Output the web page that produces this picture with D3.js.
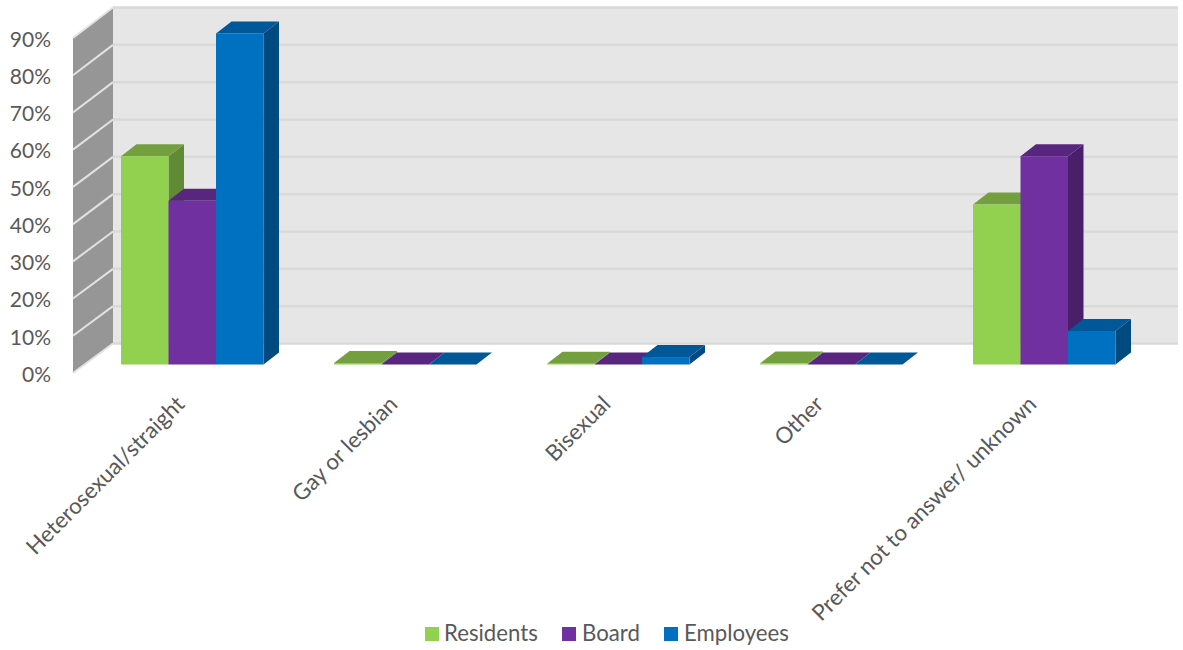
<!DOCTYPE html>
<html><head><meta charset="utf-8">
<script src="https://d3js.org/d3.v7.min.js"></script>
<style>html,body{margin:0;background:#fff}svg{display:block}text{font-family:Lato,"Open Sans",sans-serif;fill:#595959}</style>
</head><body><svg id="c" width="1183" height="650"></svg>
<script>
const categories=["Heterosexual/straight","Gay or lesbian","Bisexual","Other","Prefer not to answer/ unknown"];
const seriesNames=["Residents","Board","Employees"];
const residents=[56,0.4,0.2,0.3,43];
const board=[44,0,0,0,56];
const employees=[89,0,2,0,9];
const tickValues=[0,10,20,30,40,50,60,70,80,90];
const frontColors=["#92d050","#7030a0","#0070c0"];
const topColors=["#739f3f","#59267f","#005898"];
const sideColors=["#618a35","#4a1f6a","#004a80"];
const seriesValues=[residents,board,employees];

const svg=d3.select("#c");
const dx=15.5,dy=-12;
const x=d3.scaleBand().domain(categories).range([85.75,1150.75]).paddingInner(0).paddingOuter(0);
const s=d3.scaleBand().domain(seriesNames).range([0,142.5]);
const yBar=d3.scaleLinear().domain([0,90]).range([364.5,29.7]);
const yBack=d3.scaleLinear().domain([0,90]).range([343.5,7.5]);
const yFront=d3.scaleLinear().domain([0,90]).range([373,38]);
const wallL=73,wallR=113,plotR=1178;
const line=d3.line();

// back wall
svg.append("rect").attr("x",wallR).attr("y",yBack(90)).attr("width",plotR-wallR).attr("height",yBack(0)-yBack(90)).attr("fill","#e6e6e6");
svg.append("g").selectAll("line").data(tickValues).join("line")
 .attr("x1",wallR).attr("x2",plotR).attr("y1",d=>yBack(d)).attr("y2",d=>yBack(d))
 .attr("stroke","#d9d9d9").attr("stroke-width",2.5);
// side wall
svg.append("path").attr("d",line([[wallL,yFront(90)],[wallR,yBack(90)],[wallR,yBack(0)],[wallL,yFront(0)]])+"Z").attr("fill","#969696");
svg.append("g").selectAll("line").data(tickValues).join("line")
 .attr("x1",wallL).attr("x2",wallR).attr("y1",d=>yFront(d)).attr("y2",d=>yBack(d))
 .attr("stroke","#e2e2e2").attr("stroke-width",2);

// bars
const barG=svg.append("g");
categories.forEach((c,ci)=>{
  const groupX=x(c)+(x.bandwidth()-142.5)/2;
  seriesNames.forEach((n,si)=>{
    const v=seriesValues[si][ci];
    const x0=groupX+s(n),x1=x0+s.bandwidth(),y0=yBar(0),yT=yBar(v);
    barG.append("path").attr("d",line([[x1,yT],[x1+dx,yT+dy],[x1+dx,y0+dy],[x1,y0]])+"Z").attr("fill",sideColors[si]);
    barG.append("path").attr("d",line([[x0,yT],[x0+dx,yT+dy],[x1+dx,yT+dy],[x1,yT]])+"Z").attr("fill",topColors[si]);
    barG.append("rect").attr("x",x0).attr("y",yT).attr("width",s.bandwidth()).attr("height",Math.max(0,y0-yT)).attr("fill",frontColors[si]);
  });
});

// y labels
const ya=svg.append("g").attr("transform","translate(59,1.5)")
 .call(d3.axisLeft(yFront).tickValues(tickValues).tickSize(0).tickPadding(8).tickFormat(d=>d+"%"));
ya.select(".domain").remove();
ya.selectAll("text").style("font-size","21px").attr("fill","#595959");

// category labels
const xa=svg.append("g").attr("transform","translate(0,393)")
 .call(d3.axisBottom(x).tickSize(0).tickPadding(0));
xa.select(".domain").remove();
xa.selectAll("text").style("font-size","22.3px").attr("fill","#595959")
 .attr("text-anchor","end").attr("dy","0.8em")
 .attr("transform","translate(-19,0) rotate(-45)");

// legend
const legendSq=[425,562,664], legendTx=[444,582,684];
const lg=svg.append("g");
lg.selectAll("rect").data(seriesNames).join("rect")
 .attr("x",(d,i)=>legendSq[i]).attr("y",627).attr("width",14).attr("height",14).attr("fill",(d,i)=>frontColors[i]);
lg.selectAll("text").data(seriesNames).join("text")
 .attr("x",(d,i)=>legendTx[i]).attr("y",641).style("font-size","22.2px").text(d=>d);
</script></body></html>
